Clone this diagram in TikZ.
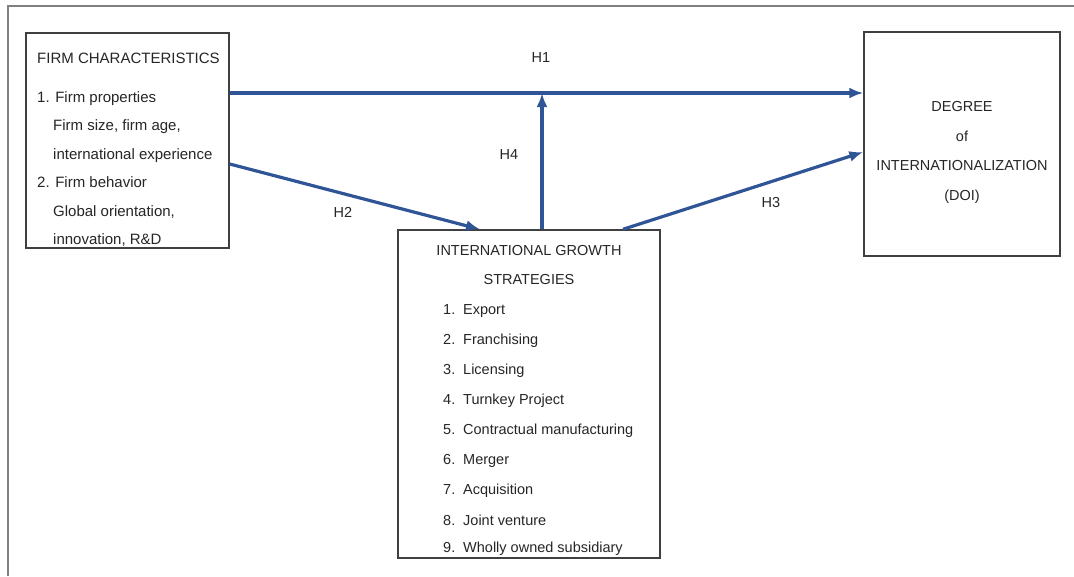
\documentclass[tikz,border=0pt]{standalone}
\usepackage{fontspec}
\setmainfont{Liberation Sans}
\usepackage{tikz}
\usetikzlibrary{arrows.meta,positioning}
\definecolor{hypblue}{RGB}{47,85,151}
\definecolor{boxgray}{RGB}{64,64,64}

\begin{document}
\begin{tikzpicture}[x=1pt, y=-1pt,
  panel/.style={draw=boxgray, line width=1.4pt, fill=white, inner sep=0pt},
  txt/.style={anchor=base west, inner sep=0pt, text=black!85, font=\fontsize{14.5}{17}\selectfont},
  ftxt/.style={txt, font=\fontsize{15}{17}\selectfont},
  ctxt/.style={txt, anchor=base},
  hyp/.style={draw=hypblue, line width=3.2pt, -{Latex[length=14pt,width=11pt]}},
  hlabel/.style={inner sep=0pt, text=black!85, font=\fontsize{14.5}{17}\selectfont}
]
\useasboundingbox (0,0) rectangle (1074,576);
\draw[gray, line width=1.5pt] (8,576) -- (8,6) -- (1074,6);

% boxes
\node[panel, minimum width=203pt, minimum height=215pt] (firm) at (127.5,140.5) {};
\node[panel, minimum width=196pt, minimum height=224pt] (doi) at (962,144) {};
\node[panel, minimum width=262pt, minimum height=328pt] (igs) at (529,394) {};

% firm characteristics
\node[ftxt] (f0) at (37,63) {FIRM CHARACTERISTICS};
\node[ftxt] (f1) at (37,102) {1. Firm properties};
\node[ftxt] (f2) at (53,130) {Firm size, firm age,};
\node[ftxt] (f3) at (53,159) {international experience};
\node[ftxt] (f4) at (37,187) {2. Firm behavior};
\node[ftxt] (f5) at (53,216) {Global orientation,};
\node[ftxt] (f6) at (53,244) {innovation, R\&D};

% degree of internationalization
\node[ctxt] (d0) at (962,111) {DEGREE};
\node[ctxt] (d1) at (962,141) {of};
\node[ctxt] (d2) at (962,170) {INTERNATIONALIZATION};
\node[ctxt] (d3) at (962,200) {(DOI)};

% growth strategies
\node[ctxt] (g0) at (529,255) {INTERNATIONAL GROWTH};
\node[ctxt] (g1) at (529,284) {STRATEGIES};
\foreach \n/\item/\y in {1/Export/314, 2/Franchising/344, 3/Licensing/374,
    4/Turnkey Project/404, 5/Contractual manufacturing/434, 6/Merger/464,
    7/Acquisition/494, 8/Joint venture/525, 9/Wholly owned subsidiary/552}
  \node[txt] (s\n) at (443,\y) {\makebox[20pt][l]{\n.}\item};

% hypotheses
\coordinate (h1mid) at (542,93);
\draw[hyp] (firm.east |- h1mid) -- (doi.west |- h1mid);
\draw[hyp] (igs.north -| h1mid) -- (h1mid);
\draw[hyp] (firm.east |- 0,164) -- (igs.north -| 480,0);
\draw[hyp] (igs.north -| 623,0) -- (doi.west |- 0,152);

\node[hlabel] (h1) at (541,58) {H1};
\node[hlabel] (h4) at (509,155) {H4};
\node[hlabel] (h2) at (343,212) {H2};
\node[hlabel] (h3) at (771,203) {H3};
\end{tikzpicture}
\end{document}
